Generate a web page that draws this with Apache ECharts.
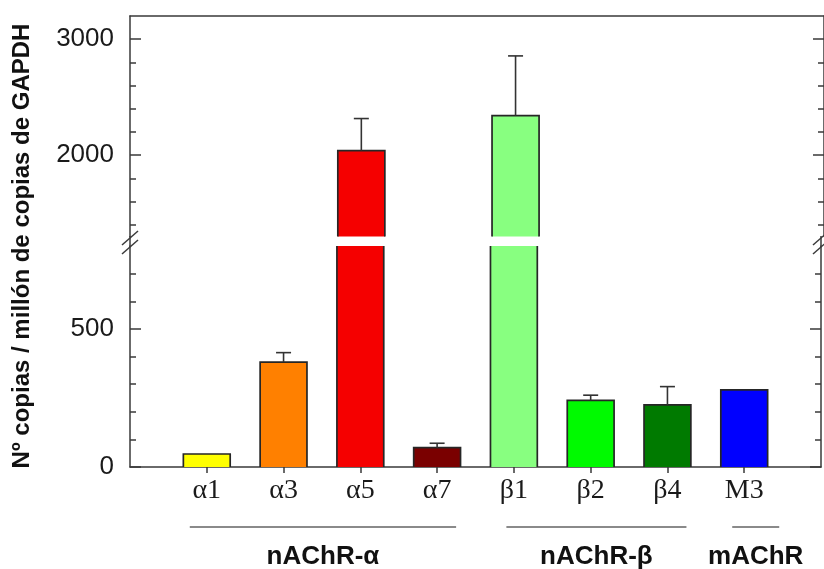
<!DOCTYPE html>
<html>
<head>
<meta charset="utf-8">
<script src="https://cdn.jsdelivr.net/npm/echarts@6/dist/echarts.min.js"></script>
<style>html,body{margin:0;padding:0;background:#fff}#c{width:824px;height:569px}</style>
</head>
<body>
<div id="c"></div>
<script>
// ---- data ----
const categories = ['α1', 'α3', 'α5', 'α7', 'β1', 'β2', 'β4', 'M3'];
const values = [47, 380, 2040, 70, 2342, 241, 225, 279];
const errors = [0, 34, 276, 16, 514, 19, 66, 0];
const barColors = ['#ffff00', '#ff8000', '#f50000', '#7a0000', '#88ff80', '#00fa00', '#007a00', '#0000ff'];
const upperMajorTicks = [2000, 3000];
const upperMinorTicks = [1400, 1600, 1800, 2200, 2400, 2600, 2800];
const lowerMajorTicks = [0, 500];
const lowerMinorTicks = [100, 200, 300, 400, 600, 700];
const groupNames = ['nAChR-α', 'nAChR-β', 'mAChR'];
const groupFrom = ['α1', 'β1', 'M3'];
const groupTo = ['α7', 'β4', 'M3'];

// ---- styling / layout (not data) ----
const groupLineExtend = [[17, 19], [7.5, 19], [12, 35]];
const axisColor = '#3a3a3a';
const paddedCats = [''].concat(categories, ['']);
const seriesData = categories.map((c, i) => [i + 1, values[i], errors[i], i]);

function makeRender() {
  return function (params, api) {
    const ci = api.value(0), v = api.value(1), err = api.value(2), k = api.value(3);
    const cs = params.coordSys;
    const base = cs.y + cs.height;
    const p = api.coord([ci, v]);
    const topPix = p[1];
    if (topPix >= base) return null;
    const w = api.size([1, 0])[0] * 0.61;
    const xc = p[0];
    const x0 = xc - w / 2, x1 = xc + w / 2;
    const y0 = Math.max(topPix, cs.y);
    const children = [];
    const bs = {stroke: '#262626', lineWidth: 1.7, fill: null};
    children.push({type: 'rect', shape: {x: x0, y: y0, width: w, height: base - y0},
      style: {fill: barColors[k], stroke: null}});
    if (topPix >= cs.y) {
      children.push({type: 'polyline', shape: {points: [[x0, base], [x0, y0], [x1, y0], [x1, base]]}, style: bs});
    } else {
      children.push({type: 'line', shape: {x1: x0, y1: y0, x2: x0, y2: base}, style: bs});
      children.push({type: 'line', shape: {x1: x1, y1: y0, x2: x1, y2: base}, style: bs});
    }
    if (err > 0) {
      const eTop = api.coord([ci, v + err])[1];
      if (topPix >= cs.y && topPix <= base && eTop >= cs.y) {
        children.push({type: 'line', shape: {x1: xc, y1: topPix, x2: xc, y2: eTop}, style: {stroke: '#333', lineWidth: 1.6}});
        children.push({type: 'line', shape: {x1: xc - 7.5, y1: eTop, x2: xc + 7.5, y2: eTop}, style: {stroke: '#333', lineWidth: 1.6}});
      }
    }
    return {type: 'group', children: children};
  };
}

function yAxes(grid, min, max, major, minor) {
  const common = {gridIndex: grid, type: 'value', min: min, max: max, splitLine: {show: false}};
  const line = {show: true, lineStyle: {color: axisColor, width: 1.5}};
  return [
    Object.assign({}, common, {position: 'left', axisLine: line,
      axisTick: {show: true, inside: true, length: 11, customValues: major, lineStyle: {color: axisColor, width: 1.5}},
      axisLabel: {show: true, customValues: major, margin: 16, fontSize: 26, color: '#1a1a1a', fontFamily: 'Liberation Sans',
        formatter: v => String(v)}}),
    Object.assign({}, common, {position: 'left', axisLine: {show: false},
      axisTick: {show: true, inside: true, length: 6, customValues: minor, lineStyle: {color: axisColor, width: 1.5}},
      axisLabel: {show: false}}),
    Object.assign({}, common, {position: 'right', axisLine: line,
      axisTick: {show: true, inside: true, length: 11, customValues: major, lineStyle: {color: axisColor, width: 1.5}},
      axisLabel: {show: false}}),
    Object.assign({}, common, {position: 'right', axisLine: {show: false},
      axisTick: {show: true, inside: true, length: 6, customValues: minor, lineStyle: {color: axisColor, width: 1.5}},
      axisLabel: {show: false}})
  ];
}

const chart = echarts.init(document.getElementById('c'), null, {renderer: 'canvas'});
const option = {
  animation: false,
  grid: [
    {left: 130, width: 695.7, top: 16, height: 220.4},
    {left: 130, width: 695.7, top: 246, height: 221}
  ],
  xAxis: [
    {gridIndex: 0, type: 'category', data: paddedCats, boundaryGap: false, position: 'top',
      axisLine: {show: true, lineStyle: {color: axisColor, width: 1.5}}, axisTick: {show: false}, axisLabel: {show: false}},
    {gridIndex: 1, type: 'category', data: paddedCats, boundaryGap: false, position: 'bottom',
      axisLine: {show: true, lineStyle: {color: axisColor, width: 1.5}},
      axisTick: {show: true, length: 6, interval: (i, v) => v !== '', lineStyle: {color: axisColor, width: 1.5}},
      axisLabel: {show: true, interval: 0, margin: 10, fontSize: 28, color: '#1a1a1a', fontFamily: 'Liberation Serif'}}
  ],
  yAxis: yAxes(0, 1300, 3200, upperMajorTicks, upperMinorTicks).concat(yAxes(1, 0, 800, lowerMajorTicks, lowerMinorTicks)),
  series: [
    {type: 'custom', xAxisIndex: 0, yAxisIndex: 0, renderItem: makeRender(), data: seriesData, clip: false},
    {type: 'custom', xAxisIndex: 1, yAxisIndex: 4, renderItem: makeRender(), data: seriesData, clip: false}
  ]
};
chart.setOption(option);

// decorations: axis break, title, group annotations
const g = [];
const brk = {stroke: axisColor, lineWidth: 1.5};
const leftX = chart.convertToPixel({xAxisIndex: 1}, 0);
const rightX = chart.convertToPixel({xAxisIndex: 1}, paddedCats.length - 1);
[leftX, rightX].forEach(function (x) {
  g.push({type: 'line', shape: {x1: x, y1: 236, x2: x, y2: 247}, style: brk});
  g.push({type: 'line', shape: {x1: x - 8, y1: 245, x2: x + 8, y2: 231}, style: brk});
  g.push({type: 'line', shape: {x1: x - 8, y1: 254, x2: x + 8, y2: 240}, style: brk});
});
g.push({type: 'text', x: 22, y: 246, rotation: Math.PI / 2,
  style: {text: 'Nº copias / millón de copias de GAPDH', font: 'bold 24px "Liberation Sans"', fill: '#111',
    textAlign: 'center', textVerticalAlign: 'middle'}});
groupNames.forEach(function (name, i) {
  const a = chart.convertToPixel({xAxisIndex: 1}, groupFrom[i]);
  const b = chart.convertToPixel({xAxisIndex: 1}, groupTo[i]);
  const xa = a - groupLineExtend[i][0];
  const xb = b + groupLineExtend[i][1];
  g.push({type: 'line', shape: {x1: xa, y1: 527, x2: xb, y2: 527}, style: {stroke: '#8a8a8a', lineWidth: 2}});
  g.push({type: 'text', x: (xa + xb) / 2, y: 557,
    style: {text: name, font: 'bold 26px "Liberation Sans"', fill: '#111', textAlign: 'center', textVerticalAlign: 'middle'}});
});
chart.setOption({graphic: g});
</script>
</body>
</html>
